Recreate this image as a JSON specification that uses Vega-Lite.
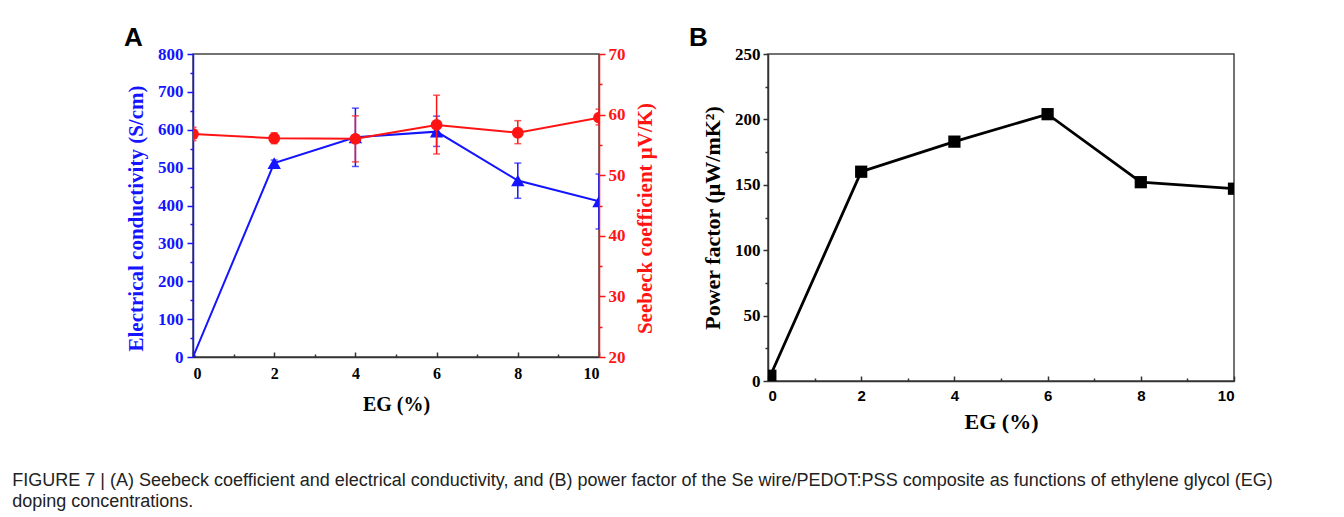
{
  "$schema": "https://vega.github.io/schema/vega-lite/v6.json",
  "background": "white",
  "padding": {"left": 12, "top": 24, "right": 5, "bottom": 5},
  "config": {
    "view": {"stroke": "#444", "strokeWidth": 1.5},
    "axis": {"labelFont": "Liberation Serif", "titleFont": "Liberation Serif", "labelFontWeight": "bold", "titleFontWeight": "bold", "grid": false, "domainWidth": 1.5, "tickWidth": 1.5, "labelColor": "black", "titleColor": "black", "domainColor": "#333", "tickColor": "#333"}
  },
  "title": {
    "text": ["FIGURE 7 | (A) Seebeck coefficient and electrical conductivity, and (B) power factor of the Se wire/PEDOT:PSS composite as functions of ethylene glycol (EG)", "doping concentrations."],
    "orient": "bottom", "anchor": "start", "frame": "bounds", "dx": -111, "offset": 39,
    "font": "Liberation Sans", "fontSize": 18, "fontWeight": "normal", "color": "#222", "lineHeight": 21
  },
  "datasets": {
    "cond": [
      {"eg": 0, "sigma": 0, "lo": null, "hi": null},
      {"eg": 2, "sigma": 512, "lo": 504, "hi": 520},
      {"eg": 4, "sigma": 580, "lo": 503, "hi": 657},
      {"eg": 6, "sigma": 595, "lo": 556, "hi": 636},
      {"eg": 8, "sigma": 466, "lo": 419, "hi": 512},
      {"eg": 10, "sigma": 411, "lo": 338, "hi": 483}
    ],
    "see": [
      {"eg": 0, "s": 56.8, "lo": 55.7, "hi": 57.9},
      {"eg": 2, "s": 56.1, "lo": 55.2, "hi": 57.0},
      {"eg": 4, "s": 56.0, "lo": 52.2, "hi": 59.8},
      {"eg": 6, "s": 58.3, "lo": 53.5, "hi": 63.2},
      {"eg": 8, "s": 57.0, "lo": 55.2, "hi": 59.0},
      {"eg": 10, "s": 59.5, "lo": 58.3, "hi": 60.9}
    ],
    "pf": [
      {"eg": 0.05, "pf": 4},
      {"eg": 2, "pf": 160},
      {"eg": 4, "pf": 183},
      {"eg": 6, "pf": 204},
      {"eg": 8, "pf": 152},
      {"eg": 10, "pf": 147}
    ]
  },
  "bounds": "flush",
  "spacing": 169,
  "hconcat": [
    {
      "width": 406,
      "height": 303,
      "title": {"text": "A", "anchor": "start", "frame": "group", "dx": -69, "font": "Liberation Sans", "fontSize": 26, "fontWeight": "bold", "offset": -6, "color": "black"},
      "encoding": {
        "x": {"field": "eg", "type": "quantitative", "scale": {"domain": [0, 10], "nice": false},
          "axis": {"values": [0, 1, 2, 3, 4, 5, 6, 7, 8, 9, 10], "format": "d", "labelExpr": "datum.value % 2 ? '' : datum.label", "title": "EG (%)", "titleFontSize": 20, "labelFontSize": 16,
            "tickSize": {"condition": {"test": "datum.value % 2 === 1", "value": -3}, "value": -5}, "labelPadding": 13, "titlePadding": 13}}
      },
      "layer": [
        {
          "data": {"name": "cond"},
          "encoding": {"y": {"field": "sigma", "type": "quantitative", "scale": {"domain": [0, 800], "nice": false},
               "axis": {"orient": "left", "values": [0, 50, 100, 150, 200, 250, 300, 350, 400, 450, 500, 550, 600, 650, 700, 750, 800], "labelExpr": "datum.value % 100 ? '' : datum.label", "title": "Electrical conductivity (S/cm)", "titleY": 164, "titleColor": "#1414ff", "labelColor": "#1414ff", "domainColor": "#1414ff", "tickColor": "#1414ff",
                 "tickSize": {"condition": {"test": "datum.value % 100 !== 0", "value": 3}, "value": 6}, "labelFontSize": 17, "titleFontSize": 21, "labelPadding": 4, "titlePadding": 11}}},
          "layer": [
            {"mark": {"type": "line", "color": "#1414ff", "strokeWidth": 2, "clip": true}},
            {"mark": {"type": "rule", "color": "#1414ff", "strokeWidth": 1.5, "clip": true},
             "encoding": {"y": {"field": "lo", "type": "quantitative"}, "y2": {"field": "hi"}}},
            {"mark": {"type": "tick", "orient": "horizontal", "color": "#1414ff", "size": 7, "thickness": 1.5, "clip": true},
             "encoding": {"y": {"field": "lo", "type": "quantitative"}}},
            {"mark": {"type": "tick", "orient": "horizontal", "color": "#1414ff", "size": 7, "thickness": 1.5, "clip": true},
             "encoding": {"y": {"field": "hi", "type": "quantitative"}}},
            {"mark": {"type": "point", "shape": "triangle-up", "filled": true, "size": 180, "color": "#1414ff", "opacity": 1, "clip": true}}
          ]
        },
        {
          "data": {"name": "see"},
          "encoding": {"y": {"field": "s", "type": "quantitative", "scale": {"domain": [20, 70], "nice": false},
               "axis": {"orient": "right", "values": [20, 25, 30, 35, 40, 45, 50, 55, 60, 65, 70], "labelExpr": "datum.value % 10 ? '' : datum.label", "title": "Seebeck coefficient  μV/K)", "titleAngle": 270, "titleBaseline": "top", "titleY": 164, "titleColor": "#ff1414", "labelColor": "#ff1414", "domainColor": "#ff1414", "tickColor": "#ff1414",
                 "tickSize": {"condition": {"test": "datum.value % 10 !== 0", "value": 3}, "value": 6}, "labelFontSize": 17, "titleFontSize": 21, "labelPadding": 3, "titlePadding": 9}}},
          "layer": [
            {"mark": {"type": "line", "color": "#ff1414", "strokeWidth": 2, "clip": true}},
            {"mark": {"type": "rule", "color": "#ff1414", "strokeWidth": 1.5, "clip": true},
             "encoding": {"y": {"field": "lo", "type": "quantitative"}, "y2": {"field": "hi"}}},
            {"mark": {"type": "tick", "orient": "horizontal", "color": "#ff1414", "size": 7, "thickness": 1.5, "clip": true},
             "encoding": {"y": {"field": "lo", "type": "quantitative"}}},
            {"mark": {"type": "tick", "orient": "horizontal", "color": "#ff1414", "size": 7, "thickness": 1.5, "clip": true},
             "encoding": {"y": {"field": "hi", "type": "quantitative"}}},
            {"mark": {"type": "point", "shape": "circle", "filled": true, "size": 140, "color": "#ff1414", "opacity": 1, "clip": true}}
          ]
        }
      ],
      "resolve": {"scale": {"y": "independent"}, "axis": {"y": "independent"}}
    },
    {
      "width": 466,
      "height": 327,
      "title": {"text": "B", "anchor": "start", "frame": "group", "dx": -79, "font": "Liberation Sans", "fontSize": 26, "fontWeight": "bold", "offset": -6, "color": "black"},
      "data": {"name": "pf"},
      "encoding": {
        "x": {"field": "eg", "type": "quantitative", "scale": {"domain": [0, 10], "nice": false},
          "axis": {"values": [0, 1, 2, 3, 4, 5, 6, 7, 8, 9, 10], "format": "d", "labelExpr": "datum.value % 2 ? '' : datum.label", "title": "EG (%)", "titleFontSize": 22, "labelFont": "Liberation Sans", "labelFontSize": 15,
            "tickSize": {"condition": {"test": "datum.value % 2 === 1", "value": -3}, "value": -5}, "labelPadding": 12, "titlePadding": 8}},
        "y": {"field": "pf", "type": "quantitative", "scale": {"domain": [0, 250], "nice": false},
          "axis": {"values": [0, 25, 50, 75, 100, 125, 150, 175, 200, 225, 250], "labelExpr": "datum.value % 50 ? '' : datum.label", "title": "Power factor (μW/mK²)", "titleFontSize": 22, "labelFontSize": 17,
            "tickSize": {"condition": {"test": "datum.value % 50 !== 0", "value": 3}, "value": 5}, "labelPadding": 3, "titlePadding": 10}}
      },
      "layer": [
        {"mark": {"type": "line", "color": "black", "strokeWidth": 2.8, "clip": true}},
        {"mark": {"type": "point", "shape": "square", "filled": true, "size": 150, "color": "black", "opacity": 1, "clip": true}}
      ]
    }
  ]
}
